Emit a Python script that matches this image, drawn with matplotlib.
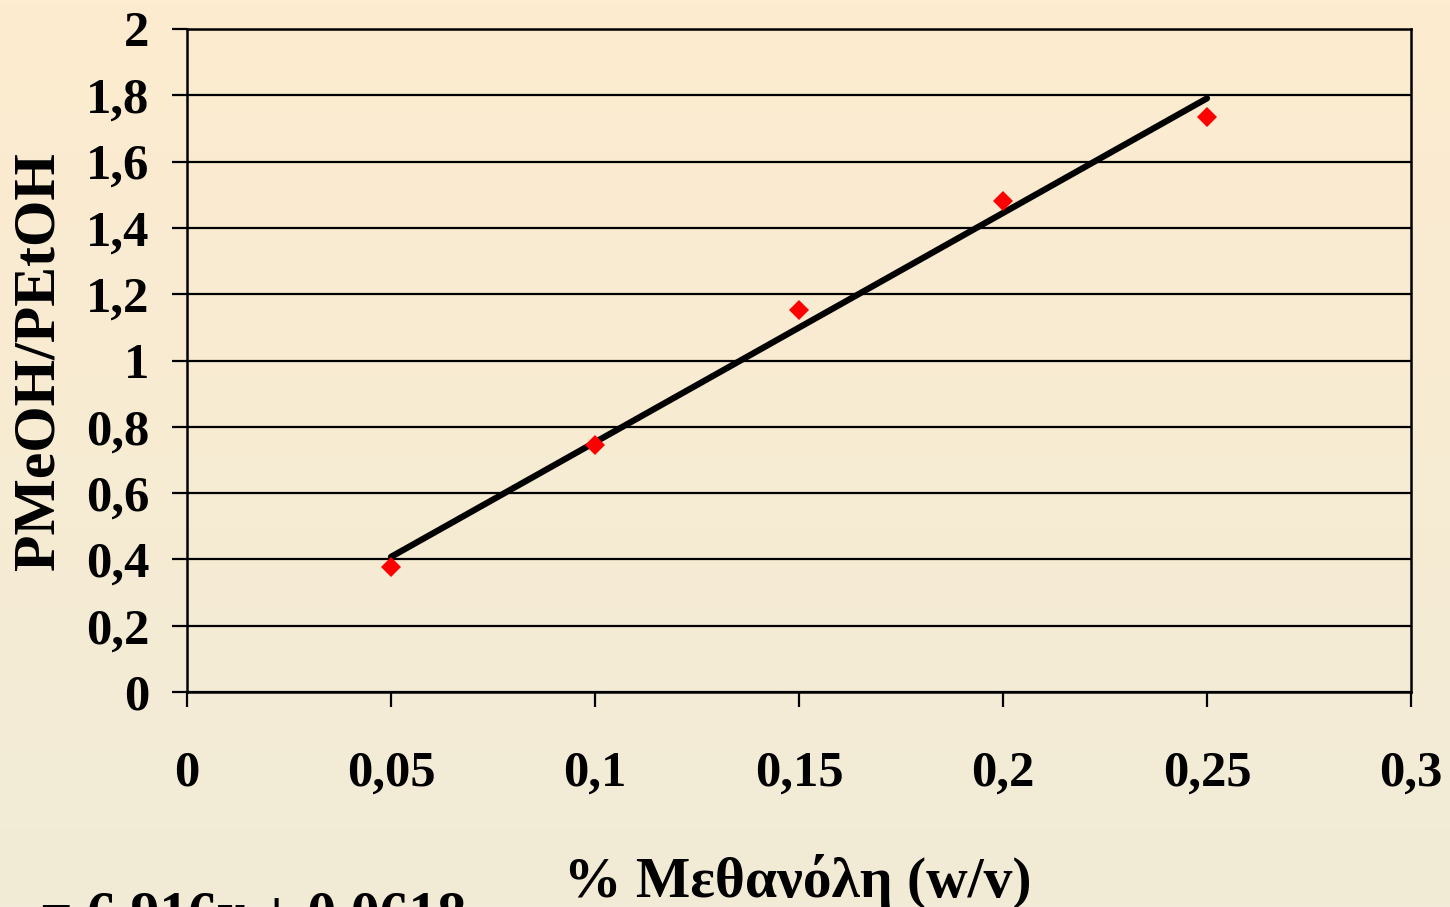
import numpy as np
import matplotlib
matplotlib.use("Agg")
import matplotlib.pyplot as plt
from matplotlib.ticker import FuncFormatter, FixedLocator

x_vals = [0.05, 0.10, 0.15, 0.20, 0.25]
y_vals = [0.377, 0.745, 1.152, 1.481, 1.735]
slope, intercept = 6.916, 0.0618
x_ticks = [0, 0.05, 0.1, 0.15, 0.2, 0.25, 0.3]
y_ticks = [0, 0.2, 0.4, 0.6, 0.8, 1, 1.2, 1.4, 1.6, 1.8, 2]

plt.rcParams['font.family'] = ['Liberation Serif', 'DejaVu Serif']
plt.rcParams['font.weight'] = 'bold'

W, H = 1450, 907
fig = plt.figure(figsize=(W/100, H/100), dpi=100)

# background gradient
bg = fig.add_axes([0, 0, 1, 1], zorder=-10)
top = np.array([253, 236, 207]) / 255
bot = np.array([241, 235, 215]) / 255
t = np.linspace(0, 1, 256)[:, None]
grad = top[None, :] * (1 - t) + bot[None, :] * t
bg.imshow(grad[:, None, :], aspect='auto', extent=[0, 1, 0, 1])
bg.axis('off')

ax = fig.add_axes([187/W, 1 - 692/H, (1411-187)/W, (692-29)/H])
ax.patch.set_alpha(0)

fmt = FuncFormatter(lambda v, p: ('%g' % v).replace('.', ','))

ax.set_xlim(0, 0.3)
ax.set_ylim(0, 2)
ax.xaxis.set_major_locator(FixedLocator(x_ticks))
ax.yaxis.set_major_locator(FixedLocator(y_ticks))
ax.xaxis.set_major_formatter(fmt)
ax.yaxis.set_major_formatter(fmt)

ax.grid(axis='y', color='black', linewidth=1.6)
ax.set_axisbelow(True)
for s in ax.spines.values():
    s.set_linewidth(1.8)
    s.set_color('black')
ax.tick_params(axis='both', direction='out', length=11, width=1.6, color='black',
               labelsize=36.5)
ax.tick_params(axis='x', pad=31)
ax.tick_params(axis='y', pad=16)
for lab in ax.get_xticklabels() + ax.get_yticklabels():
    lab.set_fontweight('bold')

# trendline
xl = np.array([x_vals[0], x_vals[-1]])
ax.plot(xl, slope * xl + intercept, color='black', linewidth=4.5,
        solid_capstyle='round', zorder=3)
ax.plot(x_vals, y_vals, linestyle='none', marker='D', markersize=10,
        color='#FF0000', markeredgewidth=0, zorder=4, clip_on=False)

fig.text(40/W, 1 - 361/H, 'PMeOH/PEtOH', rotation=90, ha='center', va='center',
         fontsize=43, fontweight='bold')
fig.text(798/W, 1 - 897/H, '% Μεθανόλη (w/v)', ha='center', va='baseline',
         fontsize=41.5, fontweight='bold')
fig.text(40/W, 1 - 931/H, '= 6,916x + 0,0618', ha='left', va='baseline',
         fontsize=41.5, fontweight='bold')

fig.savefig('out.png', dpi=100)
